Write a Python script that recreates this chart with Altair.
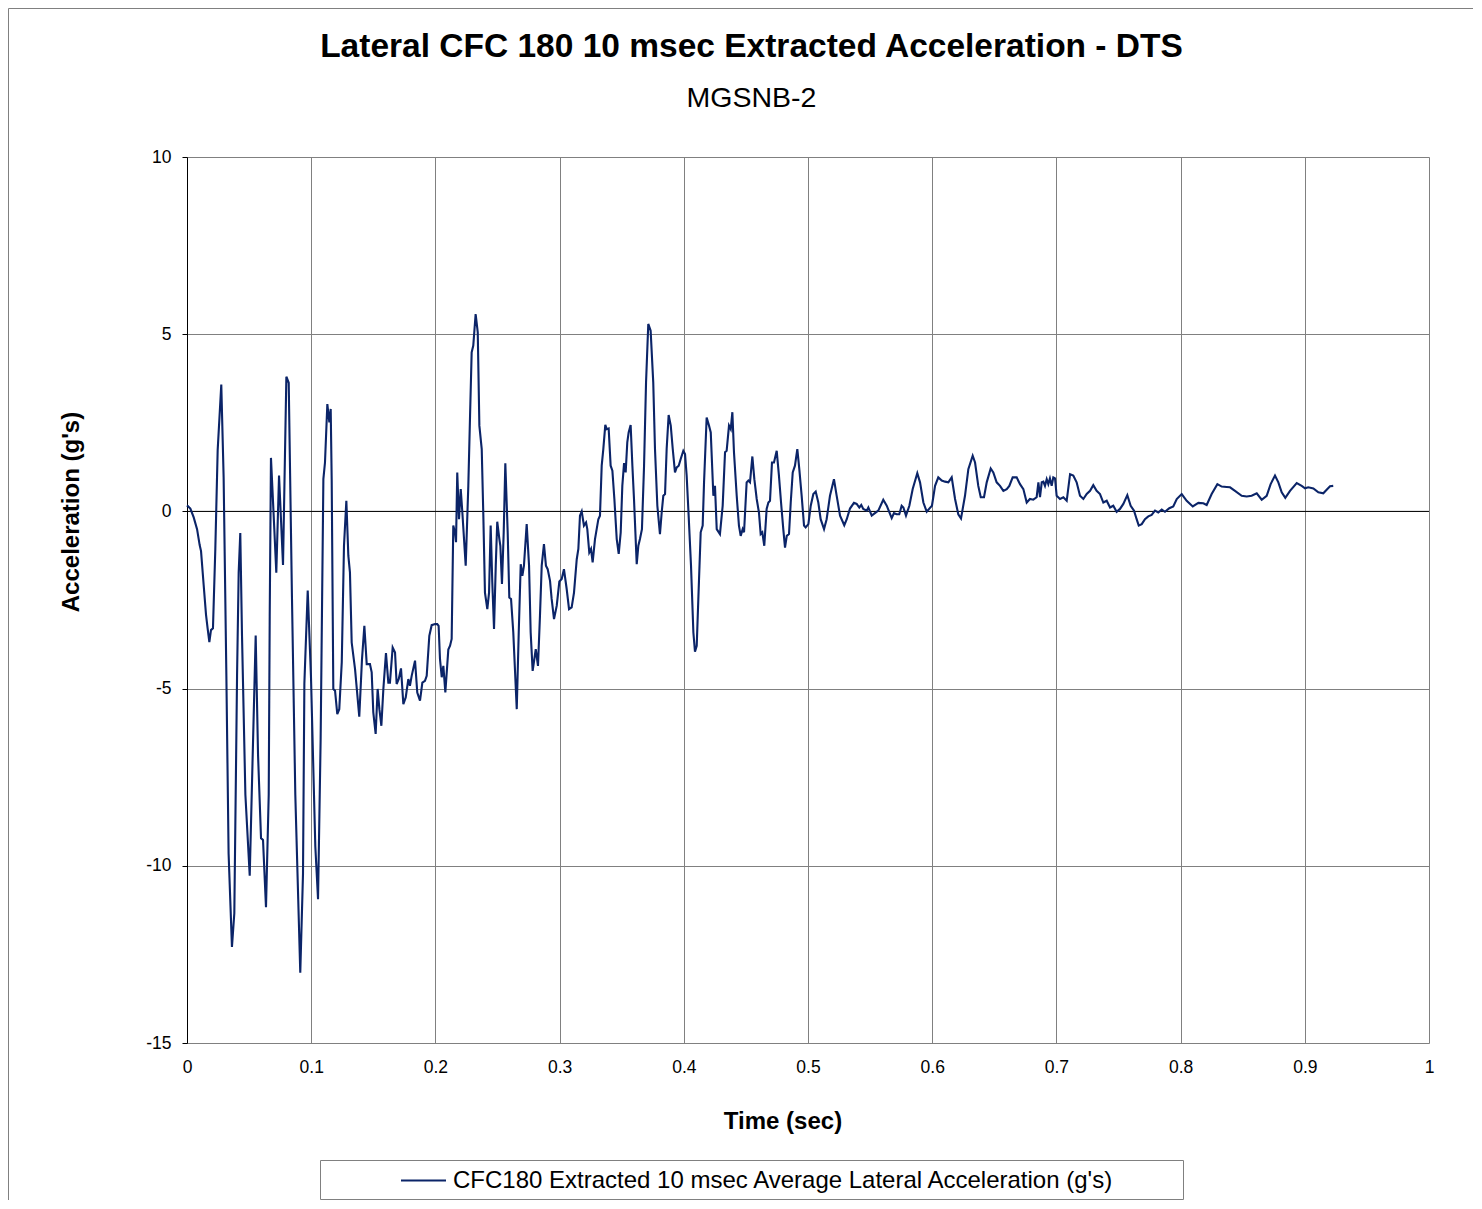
import altair as alt
import pandas as pd

TITLE = "Lateral CFC 180 10 msec Extracted Acceleration - DTS"
SUBTITLE = "MGSNB-2"
X_TITLE = "Time (sec)"
Y_TITLE = "Acceleration (g's)"
SERIES = "CFC180 Extracted 10 msec Average Lateral Acceleration (g's)"
X_TICKS = [0, 0.1, 0.2, 0.3, 0.4, 0.5, 0.6, 0.7, 0.8, 0.9, 1]
Y_TICKS = [-15, -10, -5, 0, 5, 10]

time_1 = [0.0000, 0.0027, 0.0054, 0.0081, 0.0102, 0.0113, 0.0134, 0.0153, 0.0166, 0.0180,
          0.0193, 0.0209, 0.0228, 0.0247, 0.0276, 0.0295, 0.0317, 0.0335, 0.0362, 0.0381,
          0.0403, 0.0416, 0.0429, 0.0443, 0.0470, 0.0505, 0.0529, 0.0553, 0.0572, 0.0596,
          0.0612, 0.0636, 0.0658, 0.0666, 0.0676, 0.0703, 0.0719, 0.0741, 0.0773, 0.0800,
          0.0819, 0.0845, 0.0872, 0.0912, 0.0934, 0.0945, 0.0972, 0.0998, 0.1033, 0.1055]
accel_1 = [0.17, 0.08, -0.17, -0.50, -0.95, -1.12, -2.07, -2.91, -3.30, -3.69,
           -3.35, -3.30, -1.06, 1.73, 3.58, 0.95, -4.64, -9.66, -12.29, -11.34,
           -4.64, -1.73, -0.61, -3.52, -7.99, -10.28, -6.87, -3.50, -6.87, -9.22,
           -9.27, -11.17, -7.99, -2.96, 1.51, -0.50, -1.73, 1.01, -1.51, 3.80,
           3.63, -2.40, -7.99, -13.02, -10.22, -4.86, -2.23, -4.64, -9.44, -10.94]

time_2 = [0.1076, 0.1098, 0.1111, 0.1130, 0.1146, 0.1157, 0.1165, 0.1178, 0.1192, 0.1210,
          0.1226, 0.1246, 0.1264, 0.1283, 0.1299, 0.1312, 0.1326, 0.1353, 0.1387, 0.1409,
          0.1428, 0.1447, 0.1473, 0.1487, 0.1500, 0.1519, 0.1535, 0.1549, 0.1565, 0.1581,
          0.1602, 0.1621, 0.1634, 0.1656, 0.1675, 0.1688, 0.1705, 0.1723, 0.1742, 0.1761,
          0.1782, 0.1795, 0.1809, 0.1836, 0.1854, 0.1876, 0.1895, 0.1916, 0.1930, 0.1951,
          0.1970, 0.1997, 0.2015, 0.2026, 0.2037, 0.2051, 0.2064, 0.2080, 0.2104, 0.2118]
accel_2 = [-6.43, 0.91, 1.38, 3.03, 2.51, 2.89, 0.91, -5.01, -5.06, -5.72,
           -5.58, -4.26, -0.97, 0.30, -1.25, -1.72, -3.70, -4.45, -5.79, -4.17,
           -3.23, -4.31, -4.31, -4.54, -5.67, -6.28, -5.01, -5.58, -6.05, -5.01,
           -4.00, -4.83, -4.83, -3.84, -3.98, -4.87, -4.73, -4.43, -5.44, -5.25,
           -4.73, -4.92, -4.64, -4.21, -5.11, -5.34, -4.83, -4.78, -4.64, -3.51,
           -3.21, -3.18, -3.18, -3.23, -4.17, -4.68, -4.36, -5.11, -3.90, -3.79]

time_3 = [0.2131, 0.2144, 0.2158, 0.2166, 0.2176, 0.2190, 0.2204, 0.2217, 0.2244, 0.2265,
          0.2279, 0.2292, 0.2305, 0.2324, 0.2341, 0.2354, 0.2373, 0.2386, 0.2399, 0.2418,
          0.2432, 0.2445, 0.2458, 0.2472, 0.2486, 0.2498, 0.2515, 0.2523, 0.2536, 0.2550,
          0.2563, 0.2582, 0.2595, 0.2609, 0.2627, 0.2655, 0.2671, 0.2687, 0.2700, 0.2713,
          0.2735, 0.2754, 0.2767, 0.2783, 0.2808, 0.2826, 0.2842, 0.2856, 0.2874, 0.2890,
          0.2904, 0.2923, 0.2936, 0.2955, 0.2977, 0.2998, 0.3017, 0.3035, 0.3057, 0.3076,
          0.3097, 0.3116, 0.3138, 0.3151, 0.3164, 0.3178]
accel_3 = [-3.60, -0.40, -0.59, -0.87, 1.10, -0.22, 0.63, -0.03, -1.53, 0.72,
           2.70, 4.49, 4.68, 5.57, 5.05, 2.42, 1.76, -0.12, -2.29, -2.76,
           -2.29, -0.40, -2.00, -3.32, -1.53, -0.29, -0.78, -0.97, -2.05, -0.59,
           1.36, -0.59, -2.43, -2.47, -3.41, -5.58, -3.41, -1.49, -1.82, -1.53,
           -0.36, -1.53, -3.41, -4.50, -3.89, -4.36, -2.94, -1.53, -0.92, -1.53,
           -1.63, -1.96, -2.47, -3.04, -2.66, -1.98, -1.91, -1.63, -2.19, -2.76,
           -2.71, -2.29, -1.35, -1.06, -0.12, 0.00]

time_4 = [0.3196, 0.3213, 0.3223, 0.3239, 0.3253, 0.3266, 0.3285, 0.3312, 0.3325, 0.3339,
          0.3352, 0.3368, 0.3379, 0.3395, 0.3411, 0.3425, 0.3441, 0.3460, 0.3476, 0.3492,
          0.3505, 0.3519, 0.3532, 0.3545, 0.3556, 0.3572, 0.3586, 0.3599, 0.3621, 0.3634,
          0.3647, 0.3663, 0.3680, 0.3696, 0.3714, 0.3733, 0.3754, 0.3768, 0.3787, 0.3808,
          0.3822, 0.3835, 0.3849, 0.3862, 0.3878, 0.3895, 0.3911, 0.3929, 0.3943, 0.3959,
          0.3975, 0.3996, 0.4010, 0.4023, 0.4039, 0.4058, 0.4077, 0.4090, 0.4104, 0.4117,
          0.4136, 0.4152, 0.4163, 0.4184, 0.4203, 0.4217, 0.4238, 0.4251, 0.4265, 0.4291,
          0.4313, 0.4332, 0.4345, 0.4364]
accel_4 = [-0.40, -0.31, -0.50, -1.16, -1.06, -1.44, -0.78, -0.22, -0.12, 1.29,
           1.76, 2.44, 2.32, 2.34, 1.29, 1.15, 0.35, -0.78, -1.20, -0.59,
           0.72, 1.36, 1.10, 1.95, 2.23, 2.44, 1.29, 0.35, -1.49, -0.97,
           -0.78, -0.50, 1.29, 3.64, 5.29, 5.10, 3.64, 1.76, 0.16, -0.64,
           -0.03, 0.44, 0.49, 1.76, 2.72, 2.42, 1.76, 1.10, 1.24, 1.29,
           1.48, 1.71, 1.62, 1.01, -0.12, -1.53, -3.41, -3.96, -3.79, -2.47,
           -0.59, -0.40, 0.82, 2.65, 2.42, 2.23, 0.44, 0.72, -0.50, -0.64,
           0.16, 1.67, 1.71, 2.42]

time_5 = [0.4378, 0.4391, 0.4404, 0.4426, 0.4444, 0.4458, 0.4474, 0.4485, 0.4506, 0.4520,
          0.4533, 0.4552, 0.4568, 0.4587, 0.4605, 0.4619, 0.4632, 0.4648, 0.4667, 0.4681,
          0.4694, 0.4710, 0.4726, 0.4748, 0.4766, 0.4783, 0.4801, 0.4815, 0.4829, 0.4847,
          0.4861, 0.4877, 0.4895, 0.4914, 0.4930, 0.4949, 0.4968, 0.4981, 0.5003, 0.5022,
          0.5043, 0.5062, 0.5083, 0.5102, 0.5129, 0.5150, 0.5177, 0.5209, 0.5231, 0.5258,
          0.5292, 0.5312, 0.5338, 0.5370, 0.5392, 0.5413, 0.5429, 0.5445, 0.5473]
accel_5 = [2.32, 2.80, 1.67, 0.44, -0.40, -0.69, -0.50, -0.59, 0.82, 0.87,
           0.82, 1.55, 0.91, 0.35, -0.03, -0.64, -0.59, -0.97, 0.07, 0.25,
           0.30, 1.38, 1.38, 1.71, 1.01, 0.25, -0.50, -1.02, -0.69, -0.64,
           0.25, 1.10, 1.29, 1.76, 1.19, 0.44, -0.40, -0.45, -0.36, 0.16,
           0.49, 0.56, 0.25, -0.22, -0.50, -0.22, 0.44, 0.91, 0.44, -0.12,
           -0.39, -0.22, 0.08, 0.24, 0.21, 0.11, 0.18, 0.07, 0.02]

time_6 = [0.5486, 0.5513, 0.5539, 0.5566, 0.5606, 0.5634, 0.5674, 0.5692, 0.5714, 0.5735,
          0.5754, 0.5768, 0.5789, 0.5816, 0.5843, 0.5880, 0.5902, 0.5929, 0.5956, 0.5977,
          0.5998, 0.6023, 0.6049, 0.6077, 0.6103, 0.6130, 0.6157, 0.6184, 0.6210, 0.6232,
          0.6264, 0.6291, 0.6326, 0.6345, 0.6371, 0.6391, 0.6417, 0.6439, 0.6471, 0.6492,
          0.6519, 0.6546, 0.6573, 0.6600, 0.6621, 0.6648, 0.6680]
accel_6 = [0.11, -0.12, -0.05, 0.02, 0.33, 0.16, -0.19, -0.05, -0.08, -0.08,
           0.16, 0.11, -0.12, 0.16, 0.63, 1.08, 0.82, 0.25, -0.01, 0.08,
           0.16, 0.72, 0.96, 0.87, 0.84, 0.82, 0.96, 0.35, -0.08, -0.20,
           0.44, 1.19, 1.57, 1.38, 0.72, 0.40, 0.40, 0.82, 1.21, 1.10,
           0.82, 0.72, 0.58, 0.63, 0.72, 0.96, 0.96]

time_7 = [0.6707, 0.6734, 0.6761, 0.6787, 0.6814, 0.6841, 0.6855, 0.6868, 0.6882, 0.6895,
          0.6908, 0.6922, 0.6935, 0.6948, 0.6962, 0.6975, 0.6989, 0.7002, 0.7029, 0.7056,
          0.7083, 0.7110, 0.7136, 0.7163, 0.7190, 0.7217, 0.7244, 0.7271, 0.7297, 0.7324,
          0.7351, 0.7378, 0.7405, 0.7432, 0.7458, 0.7485, 0.7512, 0.7539, 0.7571, 0.7598,
          0.7625, 0.7646, 0.7663, 0.7687, 0.7713, 0.7740, 0.7767, 0.7794, 0.7820, 0.7848,
          0.7874, 0.7909]
accel_7 = [0.77, 0.63, 0.25, 0.35, 0.33, 0.40, 0.82, 0.40, 0.82, 0.84,
           0.72, 0.91, 0.77, 0.93, 0.72, 0.96, 0.93, 0.44, 0.35, 0.40,
           0.30, 1.05, 1.01, 0.82, 0.44, 0.35, 0.49, 0.58, 0.74, 0.58,
           0.49, 0.25, 0.30, 0.11, 0.16, -0.01, 0.07, 0.21, 0.46, 0.16,
           0.02, -0.22, -0.40, -0.36, -0.22, -0.14, -0.10, 0.02, -0.03, 0.05,
           -0.01, 0.09]

time_8 = [0.7941, 0.7969, 0.8009, 0.8049, 0.8098, 0.8143, 0.8183, 0.8210, 0.8250, 0.8296,
          0.8331, 0.8371, 0.8398, 0.8438, 0.8492, 0.8532, 0.8572, 0.8613, 0.8653, 0.8693,
          0.8725, 0.8760, 0.8787, 0.8814, 0.8843, 0.8881, 0.8935, 0.8975, 0.9002, 0.9028,
          0.9069, 0.9109, 0.9149, 0.9176, 0.9203, 0.9229]
accel_8 = [0.14, 0.35, 0.49, 0.30, 0.14, 0.24, 0.23, 0.18, 0.49, 0.77,
           0.70, 0.69, 0.68, 0.58, 0.44, 0.42, 0.44, 0.51, 0.33, 0.44,
           0.77, 1.01, 0.82, 0.54, 0.38, 0.58, 0.80, 0.72, 0.65, 0.68,
           0.65, 0.54, 0.51, 0.61, 0.71, 0.72]

times = time_1 + time_2 + time_3 + time_4 + time_5 + time_6 + time_7 + time_8
accels = accel_1 + accel_2 + accel_3 + accel_4 + accel_5 + accel_6 + accel_7 + accel_8
assert len(times) == len(accels)

df = pd.DataFrame({"t": times, "a": accels, "series": SERIES})

FONT = "Liberation Sans"
NAVY = "#0B2468"
GRID = "#808080"

x_enc = alt.X(
    "t:Q",
    scale=alt.Scale(domain=[0, 1], nice=False),
    axis=alt.Axis(values=X_TICKS, title=None, domain=False, ticks=False,
                  grid=True, gridColor=GRID, gridWidth=1,
                  labelExpr="'' + datum.value", labelFont=FONT, labelFontSize=17.5,
                  labelColor="black", labelPadding=15, labelFlush=False),
)
y_enc = alt.Y(
    "a:Q",
    scale=alt.Scale(domain=[-15, 10], nice=False, zero=False),
    axis=alt.Axis(values=Y_TICKS, title=None, domain=True, domainColor="black",
                  ticks=True, tickColor="black", tickSize=5,
                  grid=True, gridColor=GRID, gridWidth=1,
                  labelExpr="'' + datum.value", labelFont=FONT, labelFontSize=17.5,
                  labelColor="black", labelPadding=11, labelFlush=False),
)

zero_rule = alt.Chart(pd.DataFrame({"a": [0]})).mark_rule(
    color="black", strokeWidth=1).encode(y=y_enc)

line = alt.Chart(df).mark_line(strokeWidth=2.1).encode(
    x=x_enc,
    y=y_enc,
    color=alt.Color(
        "series:N",
        scale=alt.Scale(domain=[SERIES], range=[NAVY]),
        legend=alt.Legend(orient="none", legendX=213, legendY=1000, title=None,
                          symbolType="stroke", symbolSize=2025, symbolStrokeWidth=2,
                          symbolStrokeColor=NAVY,
                          labelFont=FONT, labelFontSize=24, labelColor="black",
                          labelLimit=1000, labelOffset=6, padding=0),
    ),
)


def text_layer(txt, px, py, size, bold=False, angle=0):
    return alt.Chart(pd.DataFrame({"txt": [txt]})).mark_text(
        font=FONT, fontSize=size, fontWeight="bold" if bold else "normal",
        align="center", baseline="alphabetic", angle=angle, color="black",
    ).encode(x=alt.value(px), y=alt.value(py), text="txt:N")


one = pd.DataFrame({"k": [0]})
legend_box = alt.Chart(one).mark_rect(fill="white", stroke="#808080", strokeWidth=1).encode(
    x=alt.value(133.5), x2=alt.value(996.5), y=alt.value(1003.5), y2=alt.value(1042.5))
frame_left = alt.Chart(one).mark_rule(color="#808080", strokeWidth=1).encode(
    x=alt.value(-178.5), y=alt.value(-148.5), y2=alt.value(1043))
frame_top = alt.Chart(one).mark_rule(color="#808080", strokeWidth=1).encode(
    x=alt.value(-178.5), x2=alt.value(1286), y=alt.value(-148.5))

chart = alt.layer(
    frame_left,
    frame_top,
    zero_rule,
    line,
    legend_box,
    text_layer(TITLE, 564.5, -100, 33.5, bold=True),
    text_layer(SUBTITLE, 564.5, -50, 28.5),
    text_layer(X_TITLE, 596, 972, 24, bold=True),
    text_layer(Y_TITLE, -108, 355, 24, bold=True, angle=270),
).properties(
    width=1242,
    height=886,
    padding={"left": 179, "top": 149, "right": 44, "bottom": 157},
    autosize=alt.AutoSizeParams(type="none"),
).configure_view(
    stroke="#808080", strokeWidth=1,
).configure(background="white")

chart.save("out.html", embed_options={"renderer": "svg", "actions": False})
